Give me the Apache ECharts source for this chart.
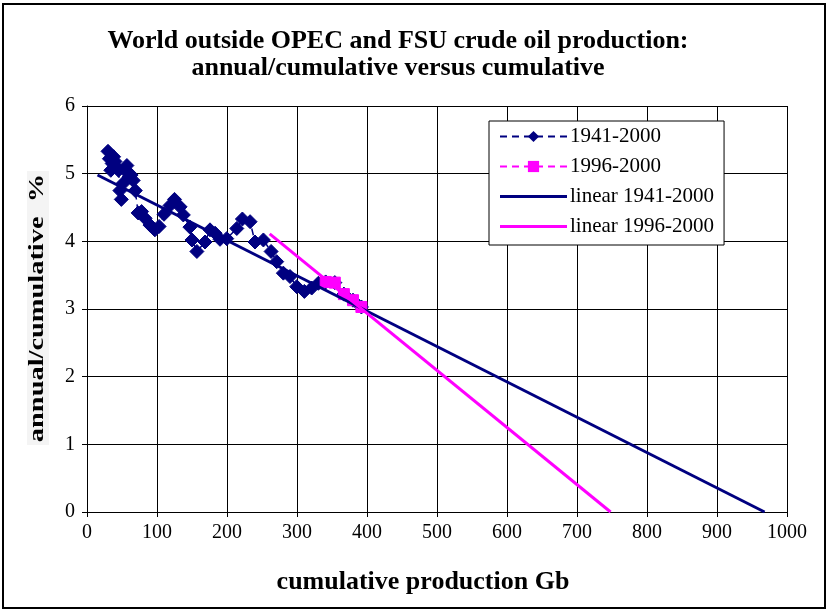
<!DOCTYPE html>
<html>
<head>
<meta charset="utf-8">
<script src="https://cdn.jsdelivr.net/npm/echarts@6/dist/echarts.min.js"></script>
<style>
html,body{margin:0;padding:0;background:#fff;}
#chart{width:830px;height:613px;}
</style>
</head>
<body>
<div id="chart"></div>
<script>
// ---- data ----
var titleText = 'World outside OPEC and FSU crude oil production:\nannual/cumulative versus cumulative';
var xAxisName = 'cumulative production Gb';
var yAxisName = 'annual/cumulative  %';
var seriesNames = ['1941-2000', '1996-2000', 'linear 1941-2000', 'linear 1996-2000'];

// 1941-2000: cumulative production (Gb) and annual/cumulative (%)
var cum1941 = [30, 32, 34, 36, 38, 40, 42, 45, 47, 49, 51, 54, 57, 60, 63, 66, 69,
               73, 78, 83, 90, 97, 103, 110, 118.6, 125, 133, 137.6, 147, 150, 157,
               168.6, 175.7, 183, 190, 199.6, 214, 222, 233, 240, 252, 263, 271,
               280.5, 290, 299.6, 310.5, 321, 330.5, 341, 354, 367, 380, 392];
var pct1941 = [5.33, 5.22, 5.05, 5.15, 5.25, 5.18, 5.10, 5.05, 4.75, 4.62, 4.85, 5.05, 5.12, 4.95, 4.98, 4.90, 4.75,
               4.42, 4.44, 4.34, 4.24, 4.17, 4.22, 4.40, 4.53, 4.62, 4.51, 4.39, 4.21, 4.02, 3.85,
               3.99, 4.17, 4.12, 4.03, 4.04, 4.19, 4.33, 4.29, 3.99, 4.02, 3.85, 3.70,
               3.53, 3.48, 3.33, 3.26, 3.31, 3.38, 3.40, 3.39, 3.22, 3.13, 3.03];

// 1996-2000
var cum1996 = [341, 354, 367, 380, 392];
var pct1996 = [3.40, 3.39, 3.22, 3.13, 3.03];

// linear trends (end points)
var trend1941X = [15, 968];
var trend1941Y = [4.98, 0];
var trend1996X = [261, 748];
var trend1996Y = [4.11, 0];

var xTicks = {min: 0, max: 1000, interval: 100};
var yTicks = {min: 0, max: 6, interval: 1};

function pairs(xs, ys) { return xs.map(function (x, i) { return [x, ys[i]]; }); }

var NAVY = '#000080', MAG = '#FF00FF';
var SERIF = '"Liberation Serif", "Times New Roman", serif';
var LINE_ICON = 'path://M0,0L67,0L67,3L0,3Z';

var chart = echarts.init(document.getElementById('chart'), null, {renderer: 'canvas'});
chart.setOption({
  backgroundColor: '#ffffff',
  animation: false,
  title: {
    text: titleText,
    left: 393, top: 23, textAlign: 'center',
    textStyle: {fontFamily: SERIF, fontWeight: 'bold', fontSize: 26, color: '#000', lineHeight: 27}
  },
  grid: {left: 87, top: 106, width: 700, height: 406, containLabel: false},
  legend: {
    orient: 'vertical', left: 489, top: 121,
    padding: [5, 10, 8, 10], itemGap: 9,
    itemWidth: 67, itemHeight: 14,
    backgroundColor: '#fff', borderColor: '#000', borderWidth: 1,
    textStyle: {fontFamily: SERIF, fontSize: 21, color: '#000', lineHeight: 20, padding: [0, 0, 0, -2]},
    data: [
      {name: seriesNames[0]},
      {name: seriesNames[1]},
      {name: seriesNames[2], icon: LINE_ICON},
      {name: seriesNames[3], icon: LINE_ICON}
    ]
  },
  xAxis: {
    type: 'value', min: xTicks.min, max: xTicks.max, interval: xTicks.interval,
    name: xAxisName, nameLocation: 'middle', nameGap: 57,
    nameTextStyle: {fontFamily: SERIF, fontWeight: 'bold', fontSize: 26, color: '#000', padding: [0, 28, 0, 0]},
    axisLine: {show: true, onZero: false, lineStyle: {color: '#000', width: 1}},
    axisTick: {show: true, inside: false, length: 5, lineStyle: {color: '#000'}},
    axisLabel: {fontFamily: SERIF, fontSize: 20, color: '#000', margin: 11,
                formatter: function (v) { return String(v); }},
    splitLine: {show: true, lineStyle: {color: '#000', width: 1}}
  },
  yAxis: {
    type: 'value', min: yTicks.min, max: yTicks.max, interval: yTicks.interval,
    axisLine: {show: true, onZero: false, lineStyle: {color: '#000', width: 1}},
    axisTick: {show: true, inside: false, length: 5, lineStyle: {color: '#000'}},
    axisLabel: {fontFamily: SERIF, fontSize: 20, color: '#000', margin: 12,
                formatter: function (v) { return String(v); }},
    splitLine: {show: true, lineStyle: {color: '#000', width: 1}}
  },
  graphic: [
    {
      type: 'rect', silent: true, z: 100,
      shape: {x: 3, y: 4, width: 822, height: 604},
      style: {fill: 'none', stroke: '#000', lineWidth: 2}
    },
    {
      type: 'text', silent: true, z: 100,
      x: 38, y: 308, rotation: Math.PI / 2, scaleX: 1.42,
      style: {
        text: yAxisName, font: 'bold 20px ' + SERIF, fill: '#000',
        align: 'center', verticalAlign: 'middle',
        backgroundColor: '#f4f4f4', padding: [1, 2, 1, 2]
      }
    }
  ],
  series: [
    {
      name: seriesNames[0], type: 'line', data: pairs(cum1941, pct1941),
      symbol: 'diamond', symbolSize: 14, showAllSymbol: true,
      lineStyle: {color: NAVY, width: 1.5, type: [7, 5]},
      itemStyle: {color: NAVY, borderColor: NAVY},
      z: 2
    },
    {
      name: seriesNames[1], type: 'line', data: pairs(cum1996, pct1996),
      symbol: 'rect', symbolSize: 11, showAllSymbol: true,
      lineStyle: {color: MAG, width: 1.5, type: [7, 5]},
      itemStyle: {color: MAG, borderColor: MAG},
      z: 3
    },
    {
      name: seriesNames[2], type: 'line', data: pairs(trend1941X, trend1941Y),
      symbol: 'none', lineStyle: {color: NAVY, width: 3},
      itemStyle: {color: NAVY}, z: 4
    },
    {
      name: seriesNames[3], type: 'line', data: pairs(trend1996X, trend1996Y),
      symbol: 'none', lineStyle: {color: MAG, width: 3},
      itemStyle: {color: MAG}, z: 5
    }
  ]
});
</script>
</body>
</html>
